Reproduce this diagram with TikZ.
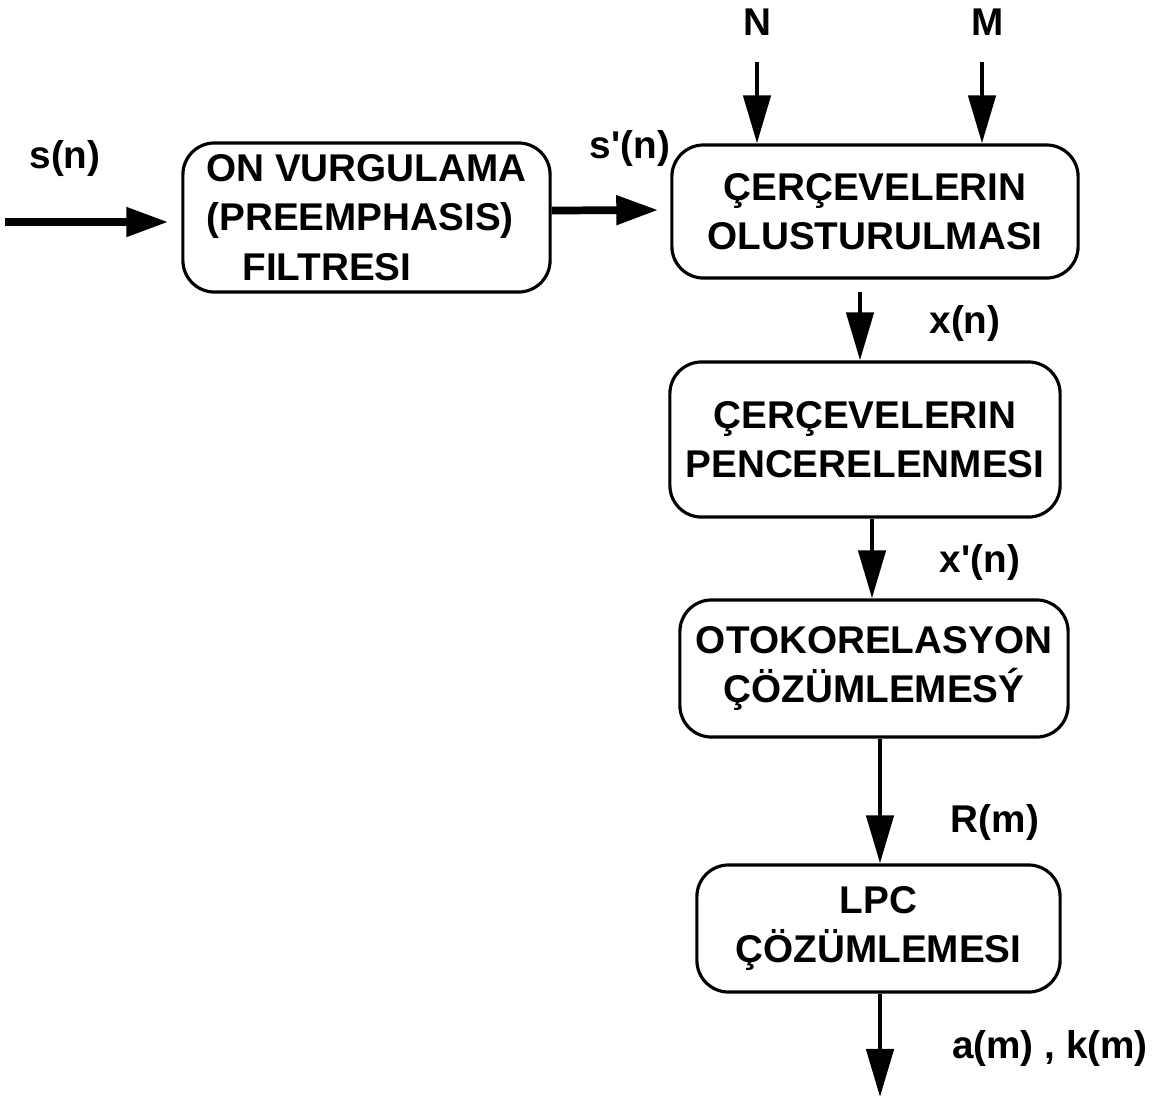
\documentclass[tikz,border=0pt]{standalone}
\usepackage{fontspec}
\setmainfont{Liberation Sans}
\usepackage{tikz}
\usetikzlibrary{arrows.meta,calc}
\tikzstyle{block}=[draw, line width=0.9pt, rounded corners=9pt, align=center, inner sep=0pt, font=\bfseries\fontsize{11}{14}\selectfont]
\tikzstyle{sig}=[font=\bfseries\fontsize{11}{14}\selectfont]
\tikzstyle{flow}=[line width=1.3pt, -{Triangle[length=4.8mm,width=2.7mm]}]
\tikzstyle{bigflow}=[line width=2.2pt, -{Triangle[length=4.2mm,width=2.8mm]}]

\begin{document}
\begin{tikzpicture}[x=0.01cm,y=-0.01cm]
	\useasboundingbox (0,0) rectangle (1163,1099);
	\node[block, align=left, minimum width=3.67cm, minimum height=1.49cm] (onv) at (366.5,217.5) {ON VURGULAMA\\(PREEMPHASIS)\\\hspace*{3.6mm}FILTRESI};
	\node[block, minimum width=4.06cm, minimum height=1.33cm] (cerc) at (875,211.5) {ÇERÇEVELERIN\\OLUSTURULMASI};
	\node[block, minimum width=3.9cm, minimum height=1.55cm] (pen) at (865,439.5) {ÇERÇEVELERIN\\PENCERELENMESI};
	\node[block, minimum width=3.88cm, minimum height=1.37cm] (oto) at (874,668.5) {OTOKORELASYON\\ÇÖZÜMLEMESÝ};
	\node[block, minimum width=3.63cm, minimum height=1.27cm] (lpc) at (878.5,928.5) {LPC\\ÇÖZÜMLEMESI};
	\node[sig] (sn) at (65,158) {s(n)};
	\node[sig] (spn) at (630,148) {s\textquotesingle(n)};
	\node[sig] (nN) at (757,22) {N};
	\node[sig] (nM) at (988,22) {M};
	\node[sig] (xn) at (965,323) {x(n)};
	\node[sig] (xpn) at (980,562) {x\textquotesingle(n)};
	\node[sig] (rm) at (995,822) {R(m)};
	\node[sig] (akm) at (1050,1048) {a(m) , k(m)};
	\coordinate (sin) at (5,222);
	\coordinate (nin) at (757,62);
	\coordinate (min) at (982,62);
	\coordinate (out) at (880,1097);
	\draw[bigflow] (sin) -- ([shift={(-13,4.5)}]onv.west);
	\draw[bigflow] ([shift={(0,-7)}]onv.east) -- ([shift={(-12,-1.5)}]cerc.west);
	\draw[flow] (nin) -- (nin |- cerc.north);
	\draw[flow] (min) -- (min |- cerc.north);
	\draw[flow] ([shift={(-15,12)}]cerc.south) -- ([shift={(-5,0)}]pen.north);
	\draw[flow] ([shift={(7,0)}]pen.south) -- ([shift={(-2,0)}]oto.north);
	\draw[flow] ([shift={(6,0)}]oto.south) -- ([shift={(1.5,0)}]lpc.north);
	\draw[flow] (lpc.south -| out) -- (out);
\end{tikzpicture}
\end{document}
